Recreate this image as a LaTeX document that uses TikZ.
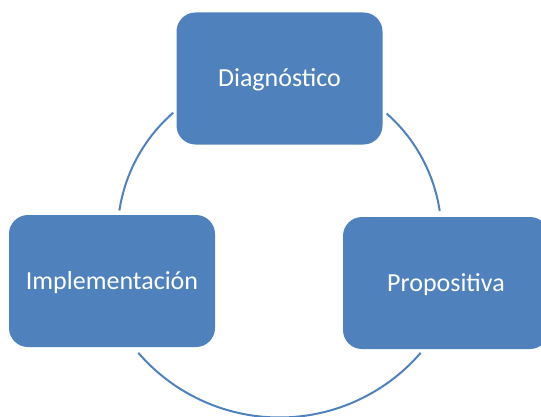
\documentclass[tikz,border=0pt]{standalone}
\usepackage{fontspec}
\setmainfont{Carlito}
\usepackage{tikz}
\usetikzlibrary{calc,positioning}
\definecolor{cyc}{HTML}{4F81BD}

\begin{document}
\begin{tikzpicture}[x=1pt, y=1pt]
\tikzstyle{bx}=[rectangle, rounded corners=19pt, fill=cyc, text=white,
                minimum width=206pt, minimum height=132pt, inner sep=0pt,
                text height=17pt, text depth=0pt, font=\fontsize{26}{31}\selectfont]
\tikzstyle{rng}=[cyc, line width=2pt]
\path[use as bounding box, clip] (0,0) rectangle (541,416);
\node[bx] (D) at (279.5,337.5) {Diagnóstico};
\node[bx] (I) at (112,135) {Implementación};
\node[bx] (P) at (446,133) {Propositiva};
%centres of the ring
\coordinate (O) at (279.5,181);
\coordinate (Q) at (279.5,185);
\foreach \c/\a/\b/\r in {O/131/171.3/162, O/48.6/8.5/162, Q/220.8/319.2/186.5}{\draw[rng] ($(\c)+(\a:\r)$) arc[start angle=\a, end angle=\b, radius=\r];}
\end{tikzpicture}
\end{document}
